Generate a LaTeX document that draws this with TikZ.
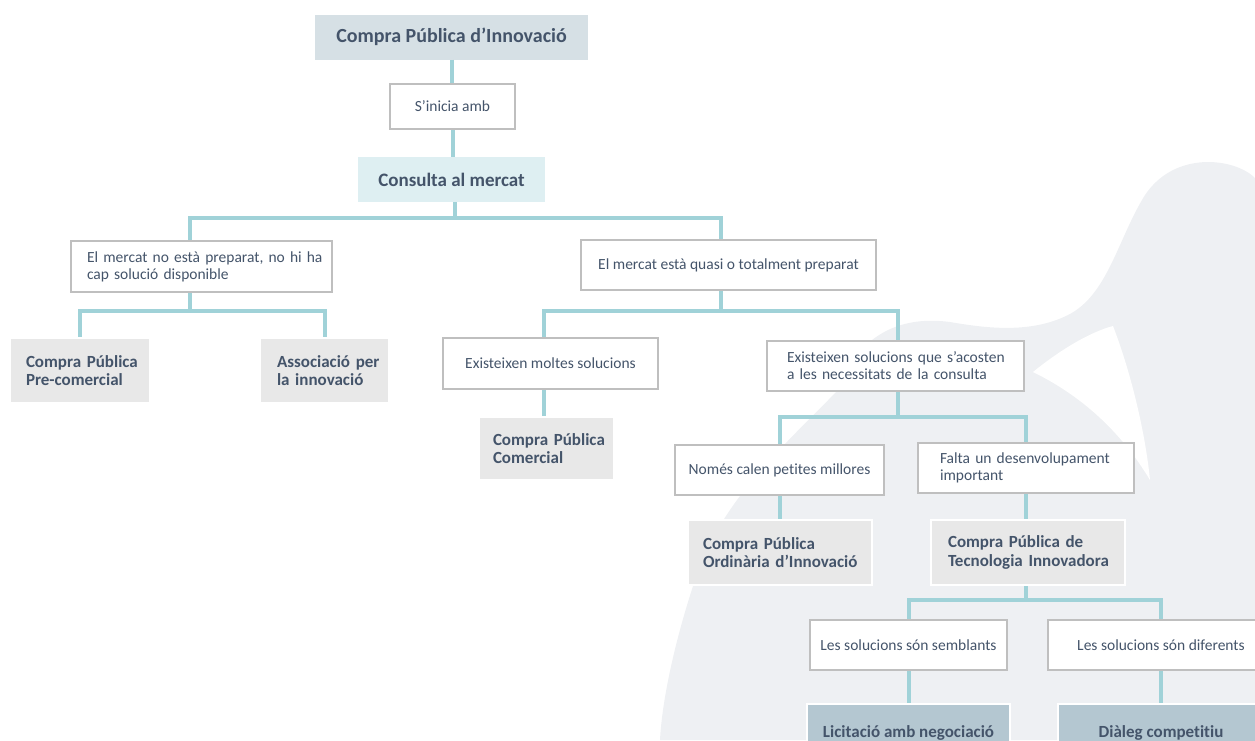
\documentclass[tikz,border=0pt]{standalone}
\usepackage{fontspec}
\setmainfont{Carlito}[Ligatures=NoCommon]
\usepackage{tikz}
\usepackage{xcolor}

\definecolor{linkc}{RGB}{160,210,216}
\definecolor{edgec}{RGB}{191,191,191}
\definecolor{textc}{RGB}{68,84,106}
\definecolor{topc}{RGB}{214,224,229}
\definecolor{askc}{RGB}{222,239,242}
\definecolor{greyc}{RGB}{232,232,232}
\definecolor{bluec}{RGB}{180,199,209}
\definecolor{blobc}{RGB}{238,240,243}

\begin{document}
\begin{tikzpicture}[x=1pt,y=-1pt,
  link/.style={draw=linkc,line width=4pt},
  whitebox/.style={rectangle,draw=edgec,line width=2.5pt,fill=white,text=textc,
    inner ysep=0pt,font=\fontsize{15.5}{17}\selectfont},
  greybox/.style={rectangle,draw=white,line width=2.5pt,fill=greyc,text=textc,
    inner ysep=0pt,align=left,font=\bfseries\fontsize{17}{18.5}\selectfont},
  bluebox/.style={rectangle,draw=white,line width=2.5pt,fill=bluec,text=textc,
    inner ysep=0pt,font=\bfseries\fontsize{17}{18.5}\selectfont}]
  \useasboundingbox (0,0) rectangle (1255,740);
  % background shape
  \fill[blobc] (1255,178) .. controls (1235,158) and (1175,150) .. (1145,195)
    .. controls (1118,238) and (1108,295) .. (1068,315)
    .. controls (1030,334) and (985,328) .. (950,322)
    .. controls (905,316) and (860,330) .. (836,392)
    .. controls (790,440) and (720,500) .. (695,580)
    .. controls (675,640) and (662,700) .. (660,740) -- (1255,740) -- cycle;
  \fill[white] (1033,372) .. controls (1060,350) and (1090,332) .. (1113,326)
    .. controls (1130,370) and (1145,430) .. (1150,480)
    .. controls (1120,430) and (1080,395) .. (1033,372) -- cycle;
  % top of the tree
  \node[rectangle,fill=topc,text=textc,minimum width=273,minimum height=45,
    font=\bfseries\fontsize{20}{24}\selectfont] (top) at (451.5,37) {Compra Pública d’Innovació};
  \node[whitebox,minimum width=125,minimum height=45] (start) at (452.5,106.5) {S’inicia amb};
  \node[rectangle,fill=askc,text=textc,minimum width=187,minimum height=45,
    font=\bfseries\fontsize{19}{22}\selectfont] (consulta) at (451.5,179.5) {Consulta al mercat};
  % first split
  \node[whitebox,text width=229,inner xsep=16,minimum height=51,align=left] (nomercat) at (201.5,266.5)
    {\mbox{El mercat no està preparat, no hi ha}\\\mbox{cap solució disponible}};
  \node[whitebox,minimum width=295,minimum height=50] (mercat) at (728.5,265) {El mercat està quasi o totalment preparat};
  % market not ready
  \node[greybox,text width=108,inner xsep=16,minimum height=65] (precom) at (80,370.5)
    {\mbox{Compra Pública}\\\mbox{Pre-comercial}};
  \node[greybox,text width=95,inner xsep=17,minimum height=65] (assoc) at (324.5,370.5)
    {\mbox{Associació per}\\\mbox{la innovació}};
  % market ready
  \node[whitebox,minimum width=215,minimum height=51] (moltes) at (550.5,363.5) {Existeixen moltes solucions};
  \node[whitebox,text width=217,inner xsep=20,minimum height=50,align=left] (acosten) at (895.5,366)
    {\mbox{Existeixen solucions que s’acosten}\\\mbox{a les necessitats de la consulta}};
  \node[greybox,text width=107,inner xsep=14,minimum height=63] (comercial) at (546.5,448.5)
    {\mbox{Compra Pública}\\\mbox{Comercial}};
  \node[whitebox,minimum width=209,minimum height=50] (nomes) at (779.5,470) {Només calen petites millores};
  \node[whitebox,text width=172,inner xsep=22,minimum height=50,align=left] (falta) at (1026,468)
    {\mbox{Falta un desenvolupament}\\\mbox{important}};
  \node[greybox,text width=154,inner xsep=15,minimum height=65] (ordinaria) at (780,552.5)
    {\mbox{Compra Pública}\\\mbox{Ordinària d’Innovació}};
  \node[greybox,text width=160,inner xsep=17,minimum height=65] (tin) at (1028,552.5)
    {\mbox{Compra Pública de}\\\mbox{Tecnologia Innovadora}};
  % last level
  \node[whitebox,minimum width=197,minimum height=50] (semblants) at (908.5,645) {Les solucions són semblants};
  \node[whitebox,minimum width=226,minimum height=50] (diferents) at (1161,645) {Les solucions són diferents};
  \node[bluebox,minimum width=203,minimum height=58] (licitacio) at (908.5,733) {Licitació amb negociació};
  \node[bluebox,minimum width=206,minimum height=58] (dialeg) at (1161,733) {Diàleg competitiu};
  % connectors
  \draw[link] (top.south) -- (top.south |- start.north);
  \draw[link] (start.south) -- (start.south |- consulta.north);
  \draw[link] ([xshift=3pt]consulta.south) -- ++(0,16) coordinate (j1) -| ([xshift=-12pt]nomercat.north);
  \draw[link] (j1) -| ([xshift=-8pt]mercat.north);
  \draw[link] ([xshift=-12pt]nomercat.south) -- ++(0,18) coordinate (j2) -| (precom.north);
  \draw[link] (j2) -| (assoc.north);
  \draw[link] ([xshift=-8pt]mercat.south) -- ++(0,20) coordinate (j3) -| ([xshift=-7pt]moltes.north);
  \draw[link] (j3) -| ([xshift=2pt]acosten.north);
  \draw[link] ([xshift=-7pt]moltes.south) -- ([xshift=-7pt]moltes.south |- comercial.north);
  \draw[link] ([xshift=2pt]acosten.south) -- ++(0,25) coordinate (j4) -| (nomes.north);
  \draw[link] (j4) -| (falta.north);
  \draw[link] (nomes.south) -- (nomes.south |- ordinaria.north);
  \draw[link] (falta.south) -- (falta.south |- tin.north);
  \draw[link] ([xshift=-2pt]tin.south) -- ++(0,14) coordinate (j5) -| (semblants.north);
  \draw[link] (j5) -| (diferents.north);
  \draw[link] (semblants.south) -- (semblants.south |- licitacio.north);
  \draw[link] (diferents.south) -- (diferents.south |- dialeg.north);
\end{tikzpicture}
\end{document}
